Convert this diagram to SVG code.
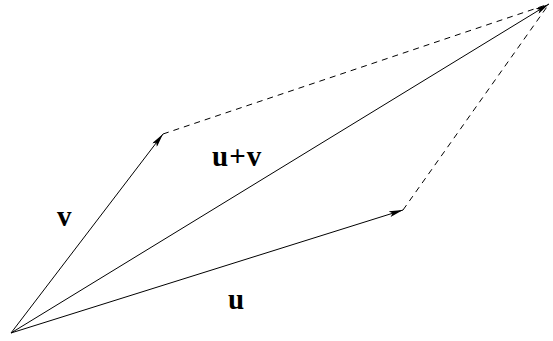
<svg xmlns="http://www.w3.org/2000/svg" width="553" height="341" viewBox="0 0 553 341">
<style>
.vec{stroke:#000;stroke-width:1;fill:none}
.dash{stroke:#000;stroke-width:1;fill:none;stroke-dasharray:6,5}
.lbl{font-family:"Liberation Serif",serif;font-size:29px;font-weight:bold;fill:#000}
</style>
<defs>
<marker id="ah" viewBox="0 0 14 6" refX="14" refY="3" markerWidth="14" markerHeight="6" markerUnits="userSpaceOnUse" orient="auto">
<path d="M0,0 L14,3 L0,6 L3,3 Z" fill="#000"/>
</marker>
</defs>
<rect width="553" height="341" fill="#fff"/>
<g id="connectors">
<line class="vec" x1="11" y1="333" x2="163" y2="134" marker-end="url(#ah)"/>
<line class="vec" x1="11" y1="333" x2="403" y2="210" marker-end="url(#ah)"/>
<line class="vec" x1="11" y1="333" x2="549" y2="4" marker-end="url(#ah)"/>
<line class="dash" x1="163" y1="134" x2="549" y2="4"/>
<line class="dash" x1="403" y1="210" x2="549" y2="4"/>
</g>
<g id="label-v"><text class="lbl" x="57" y="226">v</text></g>
<g id="label-uv"><text class="lbl" x="212" y="166" letter-spacing="1">u+v</text></g>
<g id="label-u"><text class="lbl" x="228" y="309">u</text></g>
</svg>
